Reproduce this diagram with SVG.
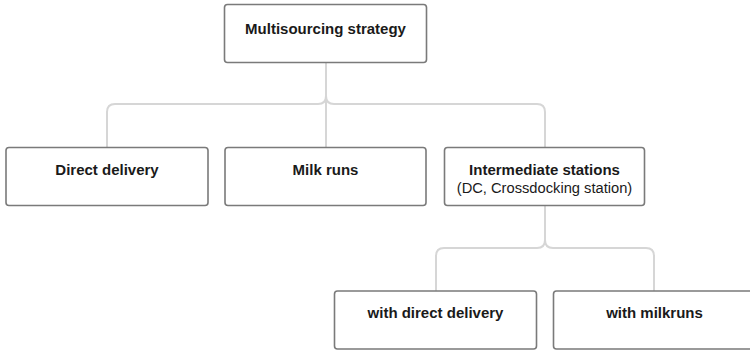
<svg xmlns="http://www.w3.org/2000/svg" width="750" height="352" viewBox="0 0 750 352">
<style>
.box{fill:#fff;stroke:#7a7a7a;stroke-width:1.6}
.con{fill:none;stroke:#d6d6d6;stroke-width:2}
.t{font-family:"Liberation Sans",Arial,sans-serif;font-size:15px;font-weight:bold;fill:#1a1a1a;text-anchor:middle}
.s{font-family:"Liberation Sans",Arial,sans-serif;font-size:14.7px;fill:#1a1a1a;text-anchor:middle}
</style>
<rect width="750" height="352" fill="#fff"/>
<g id="connectors">
<path class="con" d="M326,63 V147"/>
<path class="con" d="M326,96 Q326,104 318,104 H115 Q107,104 107,112 V147"/>
<path class="con" d="M326,96 Q326,104 334,104 H537 Q545,104 545,112 V147"/>
<path class="con" d="M545,206 V240 Q545,248 537,248 H444 Q436,248 436,256 V291"/>
<path class="con" d="M545,240 Q545,248 553,248 H646 Q654,248 654,256 V291"/>
</g>
<g id="n-multisourcing">
<rect class="box" x="224.5" y="4.5" width="202" height="58" rx="3"/>
<text class="t" x="325.5" y="34">Multisourcing strategy</text>
</g>
<g id="n-direct">
<rect class="box" x="6" y="147.5" width="202" height="58" rx="3"/>
<text class="t" x="107" y="175">Direct delivery</text>
</g>
<g id="n-milk">
<rect class="box" x="225" y="147.5" width="201" height="58" rx="3"/>
<text class="t" x="325.5" y="175">Milk runs</text>
</g>
<g id="n-intermediate">
<rect class="box" x="444.5" y="147.5" width="200" height="58" rx="3"/>
<text class="t" x="544.5" y="175">Intermediate stations</text>
<text class="s" x="544.5" y="193">(DC, Crossdocking station)</text>
</g>
<g id="n-with-direct">
<rect class="box" x="334.5" y="291" width="202" height="58" rx="3"/>
<text class="t" x="435.5" y="318">with direct delivery</text>
</g>
<g id="n-with-milk">
<rect class="box" x="553.5" y="291" width="202" height="58" rx="3"/>
<text class="t" x="654.5" y="318">with milkruns</text>
</g>
</svg>
